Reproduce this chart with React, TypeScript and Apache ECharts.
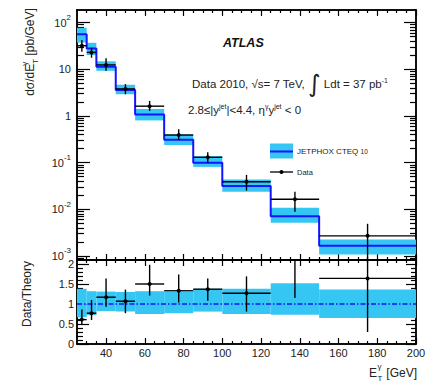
import React, { useEffect, useRef } from "react";
import * as echarts from "echarts";

// E_T^gamma bin edges [GeV]
const binEdges = [25, 30, 35, 45, 55, 70, 85, 100, 125, 150, 200];

// JETPHOX CTEQ 10 prediction [pb/GeV] and its relative uncertainty band
const jetphox = [56, 28, 11.3, 3.6, 1.07, 0.31, 0.1, 0.0317, 0.0071, 0.00165];
const jetphoxRelUp = [1.38, 1.32, 1.31, 1.3, 1.32, 1.3, 1.38, 1.38, 1.52, 1.36];
const jetphoxRelDown = [0.67, 0.72, 0.82, 0.81, 0.75, 0.77, 0.81, 0.75, 0.73, 0.65];

// Measured cross section [pb/GeV] with total uncertainty
const dataXsec = [32, 23, 12.4, 3.8, 1.62, 0.39, 0.13, 0.039, 0.0164, 0.0027];
const dataXsecUp = [42.5, 29, 17.2, 4.8, 2.1, 0.52, 0.167, 0.0546, 0.0239, 0.0049];
const dataXsecDown = [23.8, 17.7, 9.3, 2.92, 1.28, 0.306, 0.1, 0.0252, 0.0089, 0.0004];

// Data / theory ratio with uncertainty
const ratioVal = [0.61, 0.77, 1.17, 1.07, 1.5, 1.33, 1.37, 1.27, 2.35, 1.64];
const ratioUp = [0.86, 1.1, 1.64, 1.36, 1.98, 1.74, 1.64, 1.69, 3.4, 3.0];
const ratioDown = [0.48, 0.6, 0.93, 0.77, 1.21, 1.04, 1.08, 0.81, 1.15, 0.3];

// Tick positions
const xMajorTicks = [40, 60, 80, 100, 120, 140, 160, 180, 200];
const logDecades = [-3, -2, -1, 0, 1, 2];
const ratioMajorTicks = [0, 0.5, 1, 1.5, 2];

const X_MIN = 25;
const X_MAX = 200;
const LOG_MIN = -3.086;
const LOG_MAX = 2.27;
const R_MIN = 0;
const R_MAX = 2.1;

const BAND = "#36c6f4";
const BLUE = "#1414ff";
const INK = "#222";
const FONT = "'Liberation Sans', Arial, sans-serif";

const lg = Math.log10;

const xMinorTicks: number[] = [];
for (let v = 30; v < X_MAX; v += 5) if (!xMajorTicks.includes(v)) xMinorTicks.push(v);

const logMinorTicks: number[] = [];
for (let d = -4; d <= 2; d++)
  for (let k = 2; k <= 9; k++) {
    const v = d + lg(k);
    if (v > LOG_MIN && v < LOG_MAX) logMinorTicks.push(v);
  }

const ratioMinorTicks: number[] = [];
for (let i = 1; i <= 21; i++) {
  const v = i / 10;
  if (i % 5 !== 0 && v < R_MAX) ratioMinorTicks.push(v);
}

const binCenters = binEdges.slice(0, -1).map((e, i) => (e + binEdges[i + 1]) / 2);
const lastIdx = jetphox.length - 1;

const xsecBand = jetphox.map((v, i) => [
  binEdges[i], binEdges[i + 1], lg(v * jetphoxRelDown[i]), lg(v * jetphoxRelUp[i]),
]);
const ratioBand = jetphox.map((_, i) => [
  binEdges[i], binEdges[i + 1], jetphoxRelDown[i], jetphoxRelUp[i],
]);
const xsecStep = [
  ...jetphox.map((v, i) => [binEdges[i], lg(v)]),
  [X_MAX, lg(jetphox[lastIdx])],
];
const xsecPoints = dataXsec.map((v, i) => [
  binCenters[i], lg(v), binEdges[i], binEdges[i + 1], lg(dataXsecDown[i]), lg(dataXsecUp[i]),
]);
const ratioPoints = ratioVal.map((v, i) => [
  binCenters[i], v, binEdges[i], binEdges[i + 1], ratioDown[i], ratioUp[i],
]);

const renderBand = (_p: any, api: any) => {
  const a = api.coord([api.value(0), api.value(3)]);
  const b = api.coord([api.value(1), api.value(2)]);
  return {
    type: "rect",
    shape: { x: a[0], y: a[1], width: b[0] - a[0], height: b[1] - a[1] },
    style: { fill: BAND },
  };
};

const renderPoint = (_p: any, api: any) => {
  const c = api.coord([api.value(0), api.value(1)]);
  const l = api.coord([api.value(2), api.value(1)]);
  const r = api.coord([api.value(3), api.value(1)]);
  const lo = api.coord([api.value(0), api.value(4)]);
  const hi = api.coord([api.value(0), api.value(5)]);
  const ls = { stroke: "#000", lineWidth: 1.4 };
  return {
    type: "group",
    children: [
      { type: "line", shape: { x1: l[0], y1: c[1], x2: r[0], y2: c[1] }, style: ls },
      { type: "line", shape: { x1: c[0], y1: lo[1], x2: c[0], y2: hi[1] }, style: ls },
      { type: "circle", shape: { cx: c[0], cy: c[1], r: 2 }, style: { fill: "#000" } },
    ],
  };
};

const axisLine = { show: true, onZero: false, lineStyle: { color: "#000", width: 1.5 } };
const labelBase = { color: INK, fontSize: 11, fontFamily: FONT };

function xAxisDef(grid: number, position: string, ticks: number[], len: number, labels: boolean) {
  return {
    type: "value",
    gridIndex: grid,
    position,
    min: X_MIN,
    max: X_MAX,
    axisLine,
    axisTick: { show: true, inside: true, length: len, customValues: ticks, lineStyle: { color: "#000", width: 1.2 } },
    axisLabel: labels
      ? { show: true, customValues: xMajorTicks, margin: 3, ...labelBase }
      : { show: false },
    splitLine: { show: false },
  };
}

function yAxisDef(
  grid: number, position: string, min: number, max: number,
  ticks: number[], len: number, label: any,
) {
  return {
    type: "value",
    gridIndex: grid,
    position,
    min,
    max,
    axisLine,
    axisTick: { show: true, inside: true, length: len, customValues: ticks, lineStyle: { color: "#000", width: 1.2 } },
    axisLabel: label || { show: false },
    splitLine: { show: false },
  };
}

const logLabel = {
  show: true,
  customValues: logDecades,
  margin: 6,
  ...labelBase,
  formatter: (v: number) => (v === 0 ? "1" : v === 1 ? "10" : `10{sup|${v}}`),
  rich: {
    sup: { fontSize: 8, fontFamily: FONT, color: INK, verticalAlign: "top", lineHeight: 18 },
  },
};

const ratioLabel = {
  show: true,
  customValues: ratioMajorTicks,
  margin: 3,
  ...labelBase,
};

const txt = (size: number, extra: any = {}) => ({
  fontSize: size, fontFamily: FONT, fill: INK, verticalAlign: "middle", lineHeight: 14, ...extra,
});
const sup = (size: number, extra: any = {}) => ({
  fontSize: size, fontFamily: FONT, fill: INK, verticalAlign: "top", lineHeight: 7, ...extra,
});
const sub = (size: number, extra: any = {}) => ({
  fontSize: size, fontFamily: FONT, fill: INK, verticalAlign: "bottom", lineHeight: 7, ...extra,
});

function buildOption() {
  return {
    animation: false,
    backgroundColor: "#fff",
    grid: [
      { left: 77, right: 20, top: 10, height: 250 },
      { left: 77, right: 20, top: 260, height: 84 },
    ],
    xAxis: [
      xAxisDef(0, "bottom", xMajorTicks, 6, false),
      xAxisDef(0, "bottom", xMinorTicks, 3, false),
      xAxisDef(0, "top", xMajorTicks, 6, false),
      xAxisDef(0, "top", xMinorTicks, 3, false),
      xAxisDef(1, "bottom", xMajorTicks, 6, true),
      xAxisDef(1, "bottom", xMinorTicks, 3, false),
      xAxisDef(1, "top", xMajorTicks, 6, false),
      xAxisDef(1, "top", xMinorTicks, 3, false),
    ],
    yAxis: [
      yAxisDef(0, "left", LOG_MIN, LOG_MAX, logDecades, 13, logLabel),
      yAxisDef(0, "left", LOG_MIN, LOG_MAX, logMinorTicks, 7, null),
      yAxisDef(0, "right", LOG_MIN, LOG_MAX, logDecades, 12, null),
      yAxisDef(0, "right", LOG_MIN, LOG_MAX, logMinorTicks, 6, null),
      yAxisDef(1, "left", R_MIN, R_MAX, ratioMajorTicks, 12, ratioLabel),
      yAxisDef(1, "left", R_MIN, R_MAX, ratioMinorTicks, 6, null),
      yAxisDef(1, "right", R_MIN, R_MAX, ratioMajorTicks, 10, null),
      yAxisDef(1, "right", R_MIN, R_MAX, ratioMinorTicks, 5, null),
    ],
    series: [
      {
        type: "custom", name: "JETPHOX band", xAxisIndex: 0, yAxisIndex: 0,
        data: xsecBand, renderItem: renderBand, clip: true, z: 1,
        encode: { x: [0, 1], y: [2, 3] },
      },
      {
        type: "line", name: "JETPHOX CTEQ 10", xAxisIndex: 0, yAxisIndex: 0,
        data: xsecStep, step: "end", symbol: "none", z: 2,
        lineStyle: { color: BLUE, width: 2 },
      },
      {
        type: "custom", name: "Data", xAxisIndex: 0, yAxisIndex: 0,
        data: xsecPoints, renderItem: renderPoint, clip: true, z: 3,
        encode: { x: 0, y: 1 },
      },
      {
        type: "custom", name: "Ratio band", xAxisIndex: 4, yAxisIndex: 4,
        data: ratioBand, renderItem: renderBand, clip: true, z: 1,
        encode: { x: [0, 1], y: [2, 3] },
      },
      {
        type: "line", name: "Unity", xAxisIndex: 4, yAxisIndex: 4,
        data: [[X_MIN, 1], [X_MAX, 1]], symbol: "none", z: 2,
        lineStyle: { color: BLUE, width: 1.5, type: [5, 2, 1.5, 2] },
      },
      {
        type: "custom", name: "Data/Theory", xAxisIndex: 4, yAxisIndex: 4,
        data: ratioPoints, renderItem: renderPoint, clip: true, z: 3,
        encode: { x: 0, y: 1 },
      },
    ],
    graphic: [
      {
        type: "text", x: 30, y: 52, rotation: Math.PI / 2,
        style: {
          text: "dσ/dE{g|γ}{t|T}{b| [pb/GeV]}",
          align: "center", verticalAlign: "middle",
          ...txt(12, { lineHeight: 19 }),
          rich: { g: sup(8, { width: 0 }), t: sub(8), b: txt(12, { lineHeight: 19 }) },
        },
      },
      {
        type: "text", x: 27, y: 294, rotation: Math.PI / 2,
        style: { text: "Data/Theory", align: "center", verticalAlign: "middle", ...txt(12) },
      },
      // x-axis title E_T^gamma [GeV], scripts stacked after the E
      {
        type: "text", x: 417, y: 373,
        style: { text: "[GeV]", align: "right", verticalAlign: "middle", ...txt(12) },
      },
      {
        type: "text", x: 377, y: 373,
        style: { text: "E", align: "right", verticalAlign: "middle", ...txt(12) },
      },
      {
        type: "text", x: 377.5, y: 366.5,
        style: { text: "γ", align: "left", verticalAlign: "middle", ...txt(8, { lineHeight: 9 }) },
      },
      {
        type: "text", x: 377.5, y: 378,
        style: { text: "T", align: "left", verticalAlign: "middle", ...txt(8, { lineHeight: 9 }) },
      },
      {
        type: "text", x: 223, y: 43,
        style: {
          text: "ATLAS", align: "left", verticalAlign: "middle",
          ...txt(12.5, { fontWeight: "bold", fontStyle: "italic", fill: "#111" }),
        },
      },
      {
        type: "text", x: 192, y: 84,
        style: {
          text: "Data 2010, √s= 7 TeV, {i|∫}{t| Ldt = 37 pb}{s|-1}",
          align: "left", verticalAlign: "middle",
          ...txt(11.5),
          rich: {
            t: txt(11.5),
            i: { fontSize: 24, fontFamily: "'DejaVu Sans', sans-serif", fill: INK, verticalAlign: "middle", lineHeight: 14 },
            s: sup(7),
          },
        },
      },
      {
        type: "text", x: 188, y: 110,
        style: {
          text: "2.8≤|y{s|jet}{t||<4.4, η}{s|γ}{t|y}{s|jet}{t| < 0}",
          align: "left", verticalAlign: "middle",
          ...txt(11.5),
          rich: { t: txt(11.5), s: sup(7) },
        },
      },
      { type: "rect", shape: { x: 270, y: 143.5, width: 23, height: 15 }, style: { fill: BAND } },
      { type: "line", shape: { x1: 270, y1: 151.5, x2: 293, y2: 151.5 }, style: { stroke: BLUE, lineWidth: 2 } },
      {
        type: "text", x: 297, y: 151,
        style: {
          text: "JETPHOX CTEQ {s|10}", align: "left", verticalAlign: "middle",
          ...txt(8, { lineHeight: 10 }),
          rich: { s: txt(6.5, { lineHeight: 10 }) },
        },
      },
      { type: "line", shape: { x1: 270, y1: 172, x2: 293, y2: 172 }, style: { stroke: "#000", lineWidth: 1.3 } },
      { type: "circle", shape: { cx: 281.5, cy: 172, r: 2 }, style: { fill: "#000" } },
      {
        type: "text", x: 297, y: 172,
        style: { text: "Data", align: "left", verticalAlign: "middle", ...txt(7.5, { lineHeight: 10 }) },
      },
    ],
  };
}

export default function App() {
  const ref = useRef<HTMLDivElement>(null);
  useEffect(() => {
    if (!ref.current) return;
    const chart = echarts.init(ref.current, undefined, { renderer: "svg" });
    chart.setOption(buildOption() as any);
    return () => chart.dispose();
  }, []);
  return (
    <div
      ref={ref}
      style={{ position: "fixed", left: 0, top: 0, width: 436, height: 382, background: "#fff" }}
    />
  );
}
